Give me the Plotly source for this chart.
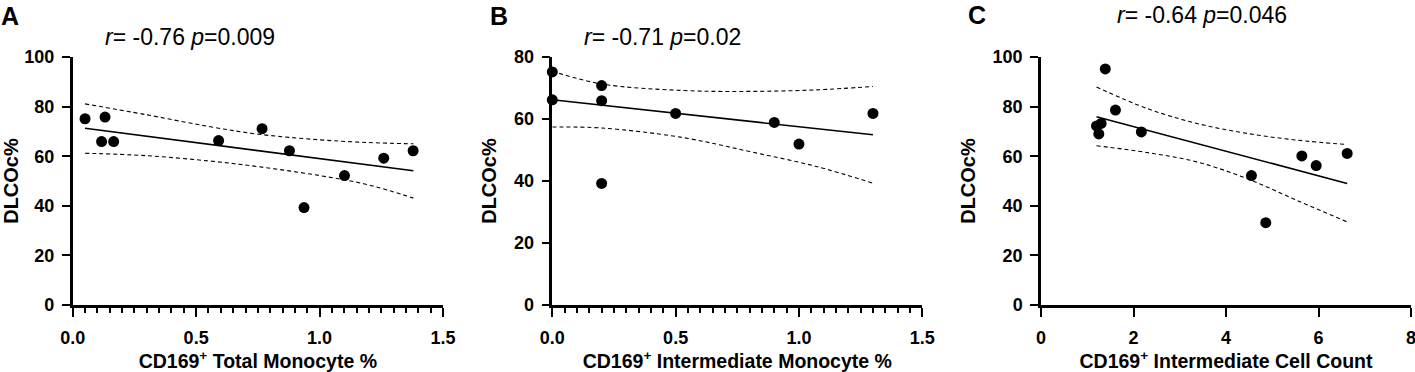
import plotly.graph_objects as go

W, H = 1415, 372
FONT = "Arial, Liberation Sans, Helvetica, sans-serif"

# ---------------- data ----------------
a_x = [0.05, 0.117, 0.131, 0.166, 0.591, 0.767, 0.878, 0.937, 1.101, 1.26, 1.379]
a_y = [75.1, 65.9, 75.8, 65.9, 66.3, 71.1, 62.2, 39.3, 52.2, 59.2, 62.2]
a_fit_x = [0.05, 1.38]
a_fit_y = [71.3, 54.1]
a_ci_x = [0.05, 0.3, 0.55, 0.75, 1.0, 1.2, 1.38]
a_ci_upper = [81.1, 76.7, 72.0, 68.9, 66.6, 65.5, 65.0]
a_ci_lower = [61.2, 60.2, 58.1, 55.8, 52.2, 48.4, 43.1]

b_x = [0.0, 0.0, 0.2, 0.2, 0.2, 0.5, 0.9, 1.0, 1.3]
b_y = [75.2, 66.2, 70.8, 65.9, 39.2, 61.8, 58.9, 51.9, 61.8]
b_fit_x = [0.0, 1.3]
b_fit_y = [66.2, 54.9]
b_ci_x = [0.0, 0.2, 0.53, 0.8, 1.07, 1.3]
b_ci_upper = [75.4, 71.3, 69.2, 68.9, 69.4, 70.5]
b_ci_lower = [57.4, 57.1, 54.0, 49.5, 44.7, 39.3]

c_x = [1.2, 1.25, 1.3, 1.39, 1.61, 2.17, 4.55, 4.86, 5.64, 5.95, 6.62]
c_y = [72.2, 69.0, 73.2, 95.2, 78.6, 69.8, 52.2, 33.2, 60.1, 56.2, 61.1]
c_fit_x = [1.2, 6.62]
c_fit_y = [75.9, 49.0]
c_ci_x = [1.2, 2.285, 3.37, 4.45, 5.53, 6.62]
c_ci_upper = [87.9, 79.3, 73.2, 69.2, 66.5, 64.7]
c_ci_lower = [64.2, 61.5, 57.7, 51.0, 42.2, 33.5]

panel_letters = ["A", "B", "C"]
stats_text = ["<i>r</i>= -0.76 <i>p</i>=0.009",
              "<i>r</i>= -0.71 <i>p</i>=0.02",
              "<i>r</i>= -0.64 <i>p</i>=0.046"]
x_titles = ["CD169<sup>+</sup> Total Monocyte %",
            "CD169<sup>+</sup> Intermediate Monocyte %",
            "CD169<sup>+</sup> Intermediate Cell Count"]
y_title = "DLCOc%"
x_ranges = [[0, 1.5], [0, 1.5], [0, 8]]
x_dticks = [0.5, 0.5, 2]
y_ranges = [[0, 100], [0, 80], [0, 100]]

panels = [
    (a_x, a_y, a_fit_x, a_fit_y, a_ci_x, a_ci_upper, a_ci_lower),
    (b_x, b_y, b_fit_x, b_fit_y, b_ci_x, b_ci_upper, b_ci_lower),
    (c_x, c_y, c_fit_x, c_fit_y, c_ci_x, c_ci_upper, c_ci_lower),
]

# ---------------- layout geometry (pixels) ----------------
x_px = [(72.7, 443.0), (552.3, 922.3), (1041.0, 1411.0)]
y_px = (57.0, 305.0)
letter_pos = [(10, 16), (499, 16), (977, 15)]
stats_pos = [(190, 37), (662, 37), (1202, 15)]

fig = go.Figure()
layout = dict(
    width=W, height=H,
    margin=dict(l=0, r=0, t=0, b=0, autoexpand=False),
    paper_bgcolor="white", plot_bgcolor="white",
    showlegend=False,
    font=dict(family=FONT, color="black", size=17),
    annotations=[],
)

for i, (px_, py_, fx, fy, cx, cu, cl) in enumerate(panels):
    sfx = "" if i == 0 else str(i + 1)
    xa, ya = "x" + sfx, "y" + sfx
    dash = dict(color="black", width=1.1, dash="4px,3px")
    fig.add_trace(go.Scatter(x=cx, y=cu, mode="lines", line=dict(shape="spline", smoothing=1.0, **dash),
                             xaxis=xa, yaxis=ya, hoverinfo="skip"))
    fig.add_trace(go.Scatter(x=cx, y=cl, mode="lines", line=dict(shape="spline", smoothing=1.0, **dash),
                             xaxis=xa, yaxis=ya, hoverinfo="skip"))
    fig.add_trace(go.Scatter(x=fx, y=fy, mode="lines", line=dict(color="black", width=1.6),
                             xaxis=xa, yaxis=ya, hoverinfo="skip"))
    fig.add_trace(go.Scatter(x=px_, y=py_, mode="markers", cliponaxis=False,
                             marker=dict(color="black", size=11, line=dict(width=0)),
                             xaxis=xa, yaxis=ya))

    xd = [x_px[i][0] / W, x_px[i][1] / W]
    yd = [(H - y_px[1]) / H, (H - y_px[0]) / H]
    common = dict(showline=True, linecolor="black", linewidth=2.5, ticks="outside",
                  tickcolor="black", tickwidth=2, showgrid=False, zeroline=False,
                  fixedrange=True, automargin=False, ticklabeloverflow="allow",
                  tickfont=dict(family=FONT, size=18, color="black", weight="bold"))
    xaxis = dict(common, domain=xd, range=x_ranges[i], dtick=x_dticks[i], tick0=0,
                 ticklen=9, ticklabelstandoff=6, anchor=ya,
                 tickformat=".1f" if i < 2 else "d",
                 title=dict(text=x_titles[i], standoff=10,
                            font=dict(family=FONT, size=19.5, color="black", weight="bold")))
    if i < 2:
        xaxis["minor"] = dict(ticks="outside", ticklen=5, tickwidth=1.5, tickcolor="black",
                              dtick=0.05, showgrid=False)
    yaxis = dict(common, domain=yd, range=y_ranges[i], dtick=20, tick0=0,
                 ticklen=8, ticklabelstandoff=4, anchor=xa,
                 title=dict(text=y_title, standoff=12,
                            font=dict(family=FONT, size=20, color="black", weight="bold")))
    layout["xaxis" + sfx] = xaxis
    layout["yaxis" + sfx] = yaxis

    lx, ly = letter_pos[i]
    layout["annotations"].append(dict(
        text="<b>%s</b>" % panel_letters[i], x=lx / W, y=1 - ly / H, xref="paper", yref="paper",
        xanchor="center", yanchor="middle", showarrow=False,
        font=dict(family=FONT, size=25, color="black")))
    sx, sy = stats_pos[i]
    layout["annotations"].append(dict(
        text=stats_text[i], x=sx / W, y=1 - sy / H, xref="paper", yref="paper",
        xanchor="center", yanchor="middle", showarrow=False,
        font=dict(family=FONT, size=23, color="black")))

fig.update_layout(**layout)
fig.write_html("out.html", config={"displayModeBar": False},
               post_script="document.body.style.margin='0px';document.body.style.overflow='hidden';")
